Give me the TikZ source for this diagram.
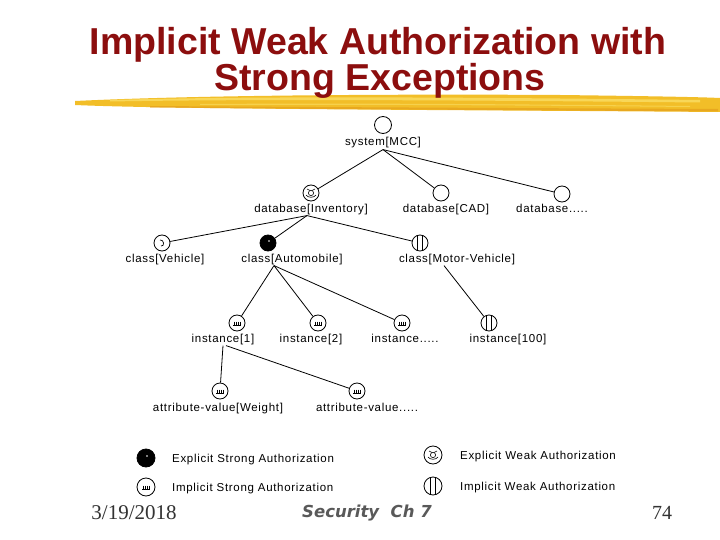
\documentclass[tikz,border=0pt]{standalone}
\usepackage{fontspec}
\setmainfont{Liberation Sans}
\newfontfamily\lblfont[LetterSpace=6]{Liberation Sans}
\newfontfamily\titlefont{Liberation Sans}
\newfontfamily\footserif{Liberation Serif}
\newfontfamily\footsans{DejaVu Sans}
\definecolor{titlered}{RGB}{140,14,14}
\definecolor{brushA}{RGB}{242,190,40}
\definecolor{brushB}{RGB}{250,222,100}
\definecolor{brushC}{RGB}{228,160,28}
\begin{document}
\begin{tikzpicture}[x=1pt,y=-1pt,
  auth/.style={circle,draw,line width=0.8pt,minimum size=16pt,inner sep=0pt,fill=white},
  plainc/.style={auth},
  es/.style={auth,fill=black,path picture={\fill[white] ([shift={(1,-2)}]path picture bounding box.center) circle[radius=0.9];}},
  iw/.style={auth,path picture={
     \draw[line width=0.8pt] ([xshift=-2.5pt]path picture bounding box.north) -- ([xshift=-2.5pt]path picture bounding box.south);
     \draw[line width=0.8pt] ([xshift=2.5pt]path picture bounding box.north) -- ([xshift=2.5pt]path picture bounding box.south);}},
  is/.style={auth,path picture={
     \foreach \dx in {-3,-1,1,3}{\draw[line width=0.6pt] ([shift={(\dx,-1.5)}]path picture bounding box.center) -- ++(0,3);}
     \draw[line width=0.5pt] ([shift={(-4,2.5)}]path picture bounding box.center) -- ++(8,0);}},
  ew/.style={auth,path picture={
     \draw[line width=0.6pt] (path picture bounding box.center) circle[radius=2.6];
     \draw[line width=0.6pt] ([shift={(-5,2)}]path picture bounding box.center) .. controls +(2,3) and +(-2,3) .. ([shift={(5,2)}]path picture bounding box.center);
     \draw[line width=0.6pt] ([shift={(-4,-4)}]path picture bounding box.center) -- ++(3,1.5);
     \draw[line width=0.6pt] ([shift={(4,-4)}]path picture bounding box.center) -- ++(-3,1.5);}},
  vq/.style={auth,path picture={
     \draw[line width=0.7pt] ([shift={(-2,-3)}]path picture bounding box.center) .. controls +(4,-1) and +(4,1) .. ([shift={(-1,3)}]path picture bounding box.center);}},
  lbl/.style={font=\lblfont\fontsize{11.5}{13}\selectfont,inner sep=1pt,anchor=base},
  legtxt/.style={font=\lblfont\fontsize{11.5}{13}\selectfont,inner sep=1pt,anchor=base west},
  edge/.style={line width=0.8pt}
]
\useasboundingbox (0,0) rectangle (720,540);
\fill[white] (0,0) rectangle (720,540);

% brush stroke
\fill[brushA] (75,101) .. controls (200,95) and (400,94) .. (560,95) .. controls (640,96) and (700,97) .. (720,98)
  -- (720,112) .. controls (600,111) and (400,110) .. (300,109) .. controls (200,108) and (120,107) .. (75,105) -- cycle;
\fill[brushB,opacity=0.8] (110,100) .. controls (250,96) and (450,97) .. (700,100) -- (700,102.5) .. controls (450,100) and (250,99) .. (110,101.5) -- cycle;
\fill[brushB,opacity=0.6] (200,104) .. controls (350,103) and (500,104) .. (690,106) -- (690,107) .. controls (500,105) and (350,104.5) .. (200,105) -- cycle;
\fill[brushC,opacity=0.7] (150,106) .. controls (300,107) and (500,108) .. (718,109) -- (718,111.5) .. controls (500,110) and (300,109) .. (150,107.5) -- cycle;

% title
\node[font=\titlefont\bfseries\fontsize{37.5}{40}\selectfont,text=titlered,anchor=base,inner sep=0pt] (t1) at (378,55) {Implicit Weak Authorization with};
\node[font=\titlefont\bfseries\fontsize{37.5}{40}\selectfont,text=titlered,anchor=base,inner sep=0pt] (t2) at (380,91) {Strong Exceptions};

% tree nodes
\node[plainc,minimum size=17pt] (sys) at (383,125) {};
\node[lbl] (sysl) at (383,146) {system[MCC]};
\node[ew] (dbi) at (311,193) {};
\node[lbl] (dbil) at (311,212) {database[Inventory]};
\node[plainc] (dbc) at (441,193) {};
\node[lbl] (dbcl) at (446,212) {database[CAD]};
\node[plainc] (dbd) at (562,194) {};
\node[lbl] (dbdl) at (552,212) {database.....};
\node[vq] (cv) at (162,243) {};
\node[lbl] (cvl) at (165,262) {class[Vehicle]};
\node[es] (ca) at (268,243) {};
\node[lbl] (cal) at (292,262) {class[Automobile]};
\node[iw] (cm) at (420,243) {};
\node[lbl] (cml) at (457,262) {class[Motor-Vehicle]};
\node[is] (i1) at (237,323) {};
\node[lbl] (i1l) at (223,342) {instance[1]};
\node[is] (i2) at (318,323) {};
\node[lbl] (i2l) at (311,342) {instance[2]};
\node[is] (id) at (402,323) {};
\node[lbl] (idl) at (405,342) {instance.....};
\node[iw] (i100) at (489,323) {};
\node[lbl] (i100l) at (508,342) {instance[100]};
\node[is] (aw) at (220,391) {};
\node[lbl] (awl) at (218,411) {attribute-value[Weight]};
\node[is] (ad) at (357,391) {};
\node[lbl] (adl) at (367,411) {attribute-value.....};

% edges
\draw[edge] (sysl.south) -- (dbi);
\draw[edge] (sysl.south) -- (dbc);
\draw[edge] (sysl.south) -- (dbd);
\draw[edge] ([xshift=-4pt]dbil.south) -- (cv);
\draw[edge] ([xshift=-4pt]dbil.south) -- (ca);
\draw[edge] ([xshift=-4pt]dbil.south) -- (cm);
\draw[edge] ([xshift=-18pt]cal.south) -- (i1);
\draw[edge] ([xshift=-18pt]cal.south) -- (i2);
\draw[edge] ([xshift=-18pt]cal.south) -- (id);
\draw[edge] ([xshift=-13pt]cml.south) -- (i100);
\draw[edge] (i1l.south) -- (aw);
\draw[edge] ([xshift=3pt]i1l.south) -- (ad);

% legend
\node[es,minimum size=18pt] (lg1) at (146,458) {};
\node[legtxt] (lg1t) at (171,462) {Explicit Strong Authorization};
\node[is,minimum size=18pt] (lg2) at (146,487) {};
\node[legtxt] (lg2t) at (171,491) {Implicit Strong Authorization};
\node[ew,minimum size=18pt] (lg3) at (433,455) {};
\node[legtxt] (lg3t) at (459,459) {Explicit Weak Authorization};
\node[iw,minimum size=18pt] (lg4) at (433,486) {};
\node[legtxt] (lg4t) at (459,490) {Implicit Weak Authorization};

% footer
\node[font=\footserif\fontsize{21}{23}\selectfont,text=black!80] (date) at (134,513) {3/19/2018};
\node[font=\footsans\bfseries\itshape\fontsize{16.5}{19}\selectfont,text=black!65] (sec) at (367,513) {Security\ \ Ch 7};
\node[font=\footserif\fontsize{20}{23}\selectfont,text=black!80] (pg) at (662,513) {74};
\end{tikzpicture}
\end{document}
